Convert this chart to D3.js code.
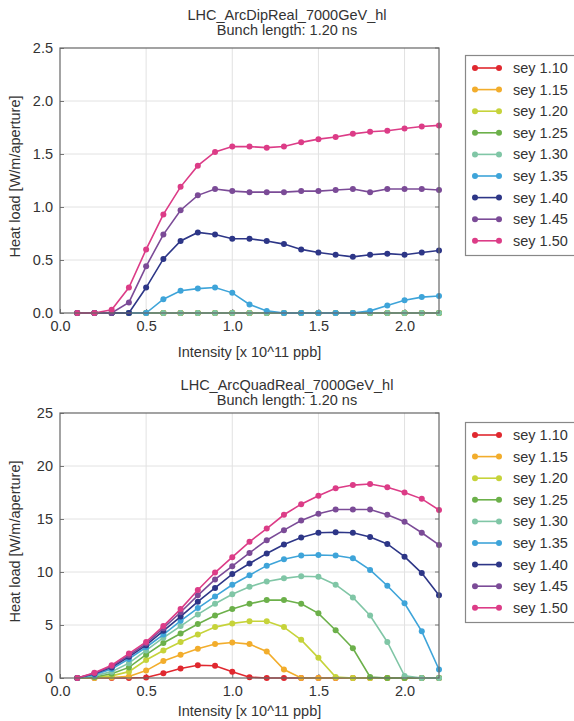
<!DOCTYPE html>
<html>
<head>
<meta charset="utf-8">
<script src="https://cdn.jsdelivr.net/npm/d3@7/dist/d3.min.js"></script>
<style>
  body { margin: 0; background: #fff; }
  svg { display: block; font-family: "Liberation Sans", Arial, sans-serif; }
</style>
</head>
<body>
<div id="chart"></div>
<script>
// Intensity [x 10^11 ppb]
const intensity = [0.1, 0.2, 0.3, 0.4, 0.5, 0.6, 0.7, 0.8, 0.9, 1.0, 1.1,
                   1.2, 1.3, 1.4, 1.5, 1.6, 1.7, 1.8, 1.9, 2.0, 2.1, 2.2];

const seyLabels = ['sey 1.10', 'sey 1.15', 'sey 1.20', 'sey 1.25', 'sey 1.30',
                   'sey 1.35', 'sey 1.40', 'sey 1.45', 'sey 1.50'];
const seyColors = ['#e0282f', '#f2ad2c', '#c6d33a', '#6cb04a', '#80c6a6',
                   '#3ea4d9', '#2d3687', '#7b4b97', '#dc3c87'];

// Dipole heat load [W/m/aperture]
const dip110 = [0,0,0,0,0,0,0,0,0,0,0,0,0,0,0,0,0,0,0,0,0,0];
const dip115 = [0,0,0,0,0,0,0,0,0,0,0,0,0,0,0,0,0,0,0,0,0,0];
const dip120 = [0,0,0,0,0,0,0,0,0,0,0,0,0,0,0,0,0,0,0,0,0,0];
const dip125 = [0,0,0,0,0,0,0,0,0,0,0,0,0,0,0,0,0,0,0,0,0,0];
const dip130 = [0,0,0,0,0,0,0,0,0,0,0,0,0,0,0,0,0,0,0,0,0,0];
const dip135 = [0,0,0,0,0,0.13,0.21,0.23,0.24,0.19,0.08,0.02,0,0,0,0,0,0.02,0.07,0.12,0.15,0.16];
const dip140 = [0,0,0,0,0.24,0.51,0.68,0.76,0.74,0.70,0.70,0.68,0.65,0.60,0.57,0.55,0.53,0.55,0.56,0.55,0.57,0.59];
const dip145 = [0,0,0,0.10,0.44,0.74,0.97,1.11,1.17,1.15,1.14,1.14,1.14,1.15,1.15,1.16,1.17,1.14,1.17,1.17,1.17,1.16];
const dip150 = [0,0,0.03,0.24,0.60,0.93,1.19,1.39,1.52,1.57,1.57,1.56,1.57,1.61,1.64,1.66,1.69,1.71,1.72,1.74,1.76,1.77];

// Quadrupole heat load [W/m/aperture]
const quad110 = [0,0,0,0,0.05,0.45,0.9,1.2,1.15,0.6,0.08,0,0,0,0,0,0,0,0,0,0,0];
const quad115 = [0,0,0.05,0.15,0.7,1.6,2.2,2.75,3.2,3.35,3.2,2.5,0.8,0,0,0,0,0,0,0,0,0];
const quad120 = [0,0.05,0.2,0.6,1.7,2.6,3.4,4.1,4.8,5.15,5.35,5.35,4.8,3.6,1.9,0.1,0,0,0,0,0,0];
const quad125 = [0,0.1,0.4,1.0,2.2,3.3,4.2,5.1,5.9,6.5,7.0,7.35,7.35,7.0,6.1,4.5,2.8,0.1,0,0,0,0];
const quad130 = [0,0.2,0.6,1.4,2.6,3.8,4.9,6.0,7.0,7.9,8.6,9.1,9.4,9.6,9.55,8.8,7.6,5.9,3.4,0.2,0,0];
const quad135 = [0,0.3,0.85,1.8,2.9,4.1,5.4,6.6,7.7,8.8,9.7,10.6,11.2,11.55,11.6,11.55,11.3,10.2,8.7,7.05,4.4,0.8];
const quad140 = [0,0.4,1.0,2.0,3.1,4.45,5.8,7.2,8.5,9.8,10.8,11.75,12.6,13.25,13.7,13.75,13.7,13.3,12.65,11.45,9.9,7.8];
const quad145 = [0,0.45,1.1,2.15,3.25,4.7,6.2,7.8,9.3,10.55,11.8,13.0,13.95,14.85,15.5,15.9,15.9,15.9,15.4,14.75,13.7,12.55];
const quad150 = [0,0.5,1.2,2.3,3.4,4.9,6.5,8.3,9.95,11.4,12.85,14.1,15.4,16.4,17.2,17.9,18.2,18.3,18.0,17.5,16.9,15.85];

const xTicks = [0.0, 0.5, 1.0, 1.5, 2.0];
const dipYTicks = [0.0, 0.5, 1.0, 1.5, 2.0, 2.5];
const quadYTicks = [0, 5, 10, 15, 20, 25];

const width = 574, height = 721;
const textColor = '#333';
const fontSize = 14.5;

const svg = d3.select('#chart')
    .append('svg')
    .attr('width', width)
    .attr('height', height);

function drawPanel(cfg) {
    const {top, bottom, left = 60, right = 439, title, series, yTicks, yFormat,
           titleY, legendTop, xLabelOffset} = cfg;

    const x = d3.scaleLinear().domain([0, 2.2]).range([left, right]);
    const y = d3.scaleLinear().domain([yTicks[0], yTicks[yTicks.length - 1]]).range([bottom, top]);

    const g = svg.append('g');

    // Title (centered on figure)
    g.append('text')
        .attr('x', 287).attr('y', titleY)
        .attr('text-anchor', 'middle')
        .attr('font-size', fontSize).attr('fill', textColor)
        .text(title);
    g.append('text')
        .attr('x', 287).attr('y', titleY + 15)
        .attr('text-anchor', 'middle')
        .attr('font-size', fontSize).attr('fill', textColor)
        .text('Bunch length: 1.20 ns');

    // Grid lines
    g.append('g')
        .selectAll('line')
        .data(xTicks.slice(1))
        .join('line')
        .attr('x1', d => x(d)).attr('x2', d => x(d))
        .attr('y1', top).attr('y2', bottom)
        .attr('stroke', '#e2e2e2').attr('stroke-width', 1);
    g.append('g')
        .selectAll('line')
        .data(yTicks.slice(1, -1))
        .join('line')
        .attr('x1', left).attr('x2', right)
        .attr('y1', d => y(d)).attr('y2', d => y(d))
        .attr('stroke', '#e2e2e2').attr('stroke-width', 1);

    // X axis
    g.append('g')
        .attr('transform', `translate(0,${bottom})`)
        .call(d3.axisBottom(x).tickValues(xTicks).tickFormat(d3.format('.1f'))
            .tickSizeInner(-4).tickSizeOuter(0).tickPadding(8))
        .call(a => a.select('.domain').remove())
        .call(a => a.selectAll('line').attr('stroke', '#777'))
        .call(a => a.selectAll('text')
            .attr('font-size', fontSize).attr('fill', textColor)
            .attr('font-family', '"Liberation Sans", Arial, sans-serif'));

    // Y axis
    g.append('g')
        .attr('transform', `translate(${left},0)`)
        .call(d3.axisLeft(y).tickValues(yTicks).tickFormat(yFormat)
            .tickSizeInner(-4).tickSizeOuter(0).tickPadding(7))
        .call(a => a.select('.domain').remove())
        .call(a => a.selectAll('line').attr('stroke', '#777'))
        .call(a => a.selectAll('text')
            .attr('font-size', fontSize).attr('fill', textColor)
            .attr('font-family', '"Liberation Sans", Arial, sans-serif'));

    // Right-side inward ticks
    g.append('g')
        .selectAll('line')
        .data(yTicks)
        .join('line')
        .attr('x1', right - 4).attr('x2', right)
        .attr('y1', d => y(d)).attr('y2', d => y(d))
        .attr('stroke', '#777');

    // Axis labels
    g.append('text')
        .attr('x', (left + right) / 2).attr('y', bottom + xLabelOffset)
        .attr('text-anchor', 'middle')
        .attr('font-size', fontSize).attr('fill', textColor)
        .text('Intensity [x 10^11 ppb]');
    g.append('text')
        .attr('transform', `translate(20,${(top + bottom) / 2 - 4}) rotate(-90)`)
        .attr('text-anchor', 'middle')
        .attr('font-size', fontSize).attr('fill', textColor)
        .text('Heat load [W/m/aperture]');

    // Lines and markers
    const line = d3.line()
        .x((d, i) => x(intensity[i]))
        .y(d => y(d));

    series.forEach((vals, k) => {
        g.append('path')
            .datum(vals)
            .attr('d', line)
            .attr('fill', 'none')
            .attr('stroke', seyColors[k])
            .attr('stroke-width', 1.6);
        g.append('g')
            .selectAll('circle')
            .data(vals)
            .join('circle')
            .attr('cx', (d, i) => x(intensity[i]))
            .attr('cy', d => y(d))
            .attr('r', 3)
            .attr('fill', seyColors[k]);
    });

    // Frame
    g.append('rect')
        .attr('x', left).attr('y', top)
        .attr('width', right - left).attr('height', bottom - top)
        .attr('fill', 'none')
        .attr('stroke', '#666').attr('stroke-width', 1.2);

    // Legend
    const leg = g.append('g');
    leg.append('rect')
        .attr('x', 465.5).attr('y', legendTop + 0.5)
        .attr('width', 115).attr('height', 200)
        .attr('fill', '#fff')
        .attr('stroke', '#888').attr('stroke-width', 1.2);
    seyLabels.forEach((lab, k) => {
        const ly = legendTop + 13 + k * 21.6;
        leg.append('line')
            .attr('x1', 475).attr('x2', 499)
            .attr('y1', ly).attr('y2', ly)
            .attr('stroke', seyColors[k]).attr('stroke-width', 1.6);
        [475, 499].forEach(cx => leg.append('circle')
            .attr('cx', cx).attr('cy', ly).attr('r', 3)
            .attr('fill', seyColors[k]));
        leg.append('text')
            .attr('x', 513).attr('y', ly + 5)
            .attr('font-size', fontSize).attr('fill', textColor)
            .text(lab);
    });
}

drawPanel({
    top: 48, bottom: 313,
    title: 'LHC_ArcDipReal_7000GeV_hl',
    titleY: 20,
    series: [dip110, dip115, dip120, dip125, dip130, dip135, dip140, dip145, dip150],
    yTicks: dipYTicks,
    yFormat: d3.format('.1f'),
    legendTop: 55,
    xLabelOffset: 44
});

drawPanel({
    top: 413, bottom: 678,
    title: 'LHC_ArcQuadReal_7000GeV_hl',
    titleY: 390,
    series: [quad110, quad115, quad120, quad125, quad130, quad135, quad140, quad145, quad150],
    yTicks: quadYTicks,
    yFormat: d3.format('d'),
    legendTop: 422,
    xLabelOffset: 38
});
</script>
</body>
</html>
